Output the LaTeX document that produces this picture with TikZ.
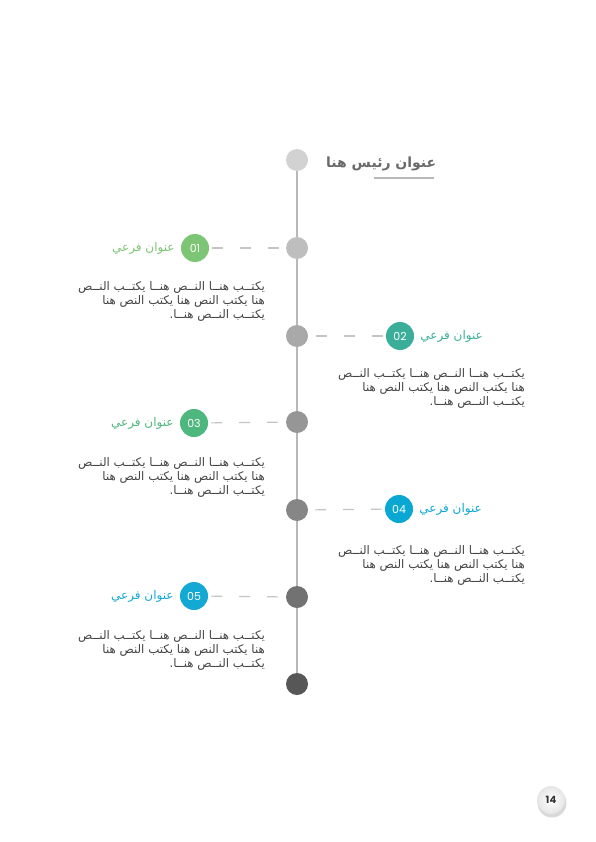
\documentclass[tikz,border=0pt]{standalone}
\usepackage{xcolor}
\usepackage{fontspec}
\TeXXeTstate=1
\newfontfamily\arabicfont[Script=Arabic]{DejaVu Sans}
\newfontfamily\digitfont{Poppins}
\usetikzlibrary{positioning,calc}

\definecolor{stepA}{HTML}{7CC574}
\definecolor{stepB}{HTML}{3AAE98}
\definecolor{stepC}{HTML}{4DB77E}
\definecolor{stepD}{HTML}{0AA7D3}
\definecolor{stepE}{HTML}{14A8D4}
\definecolor{bodygray}{HTML}{444444}
\definecolor{titlegray}{HTML}{6A6A6A}
\definecolor{linegray}{HTML}{B8B8B8}
\definecolor{dashgray}{HTML}{C4C4C4}

\newcommand{\bodytext}{%
    \beginR يكتــب هنــا النــص هنــا يكتــب النــص\endR\\
    \beginR هنا يكتب النص هنا يكتب النص هنا\endR\\
    \beginR يكتــب النــص هنــا.\endR}

\tikzset{
    dot/.style={circle, inner sep=0pt, minimum size=22pt},
    badge/.style={circle, inner sep=0pt, minimum size=28pt, text=white, font=\digitfont\fontsize{11}{11}\selectfont},
    sublabel/.style={font=\arabicfont\fontsize{12}{14}\selectfont, inner sep=0pt},
    bodybox/.style={align=right, text=bodygray, inner sep=0pt, font=\arabicfont\fontsize{11.8}{14.2}\selectfont},
    link/.style={dashgray, line width=1.1pt, dash pattern=on 11pt off 17pt, dash phase=-3pt},
}

\begin{document}
\begin{tikzpicture}[x=1pt, y=-1pt]
    \useasboundingbox (0,0) rectangle (595,842);

    % timeline dots
    \foreach \i/\y/\c in {0/160/D2D2D2, 1/248/BEBEBE, 2/336/A9A9A9, 3/422/969696, 4/510/868686, 5/597/727272, 6/684/575757} {
        \definecolor{dotfill}{HTML}{\c}
        \node[dot, fill=dotfill] (t\i) at (297,\y) {};
    }
    \foreach \i [count=\j] in {0,...,5} {
        \draw[linegray, line width=1.2pt] (t\i) -- (t\j);
    }

    % title
    \node[anchor=west, inner sep=0pt, text=titlegray, font=\arabicfont\bfseries\fontsize{14}{16}\selectfont] (title) at (326,164) {\beginR عنوان رئيس هنا\endR};
    \coordinate (ulA) at (374,178);
    \coordinate (ulB) at ($(title.east |- ulA)+(-2,0)$);
    \draw[linegray, line width=1.5pt] (ulA) -- (ulB);

    % item 01
    \node[badge, fill=stepA] (n1) at (195,248) {01};
    \node[sublabel, text=stepA, left=6pt of n1] (s1) {\beginR عنوان فرعي\endR};
    \draw[link] (n1) -- (t1);
    \node[bodybox, anchor=north east] (p1) at (265,281) {\bodytext};

    % item 02
    \node[badge, fill=stepB] (n2) at (400,336) {02};
    \node[sublabel, text=stepB, right=6pt of n2] (s2) {\beginR عنوان فرعي\endR};
    \draw[link] (n2) -- (t2);
    \node[bodybox, anchor=north east] (p2) at (525,368) {\bodytext};

    % item 03
    \node[badge, fill=stepC] (n3) at (194,423) {03};
    \node[sublabel, text=stepC, left=6pt of n3] (s3) {\beginR عنوان فرعي\endR};
    \draw[link] (n3) -- (t3);
    \node[bodybox, anchor=north east] (p3) at (265,457) {\bodytext};

    % item 04
    \node[badge, fill=stepD] (n4) at (399,509) {04};
    \node[sublabel, text=stepD, right=6pt of n4] (s4) {\beginR عنوان فرعي\endR};
    \draw[link] (n4) -- (t4);
    \node[bodybox, anchor=north east] (p4) at (525,545) {\bodytext};

    % item 05
    \node[badge, fill=stepE] (n5) at (194,596) {05};
    \node[sublabel, text=stepE, left=6pt of n5] (s5) {\beginR عنوان فرعي\endR};
    \draw[link] (n5) -- (t5);
    \node[bodybox, anchor=north east] (p5) at (265,630) {\bodytext};

    % page number
    \fill[black!15] (552,803) circle (14.5pt);
    \node[circle, inner sep=0pt, minimum size=28pt, inner color=white, outer color=black!10, font=\digitfont\bfseries\fontsize{10}{10}\selectfont, text=black!80] (page) at (551,800) {14};
\end{tikzpicture}
\end{document}
